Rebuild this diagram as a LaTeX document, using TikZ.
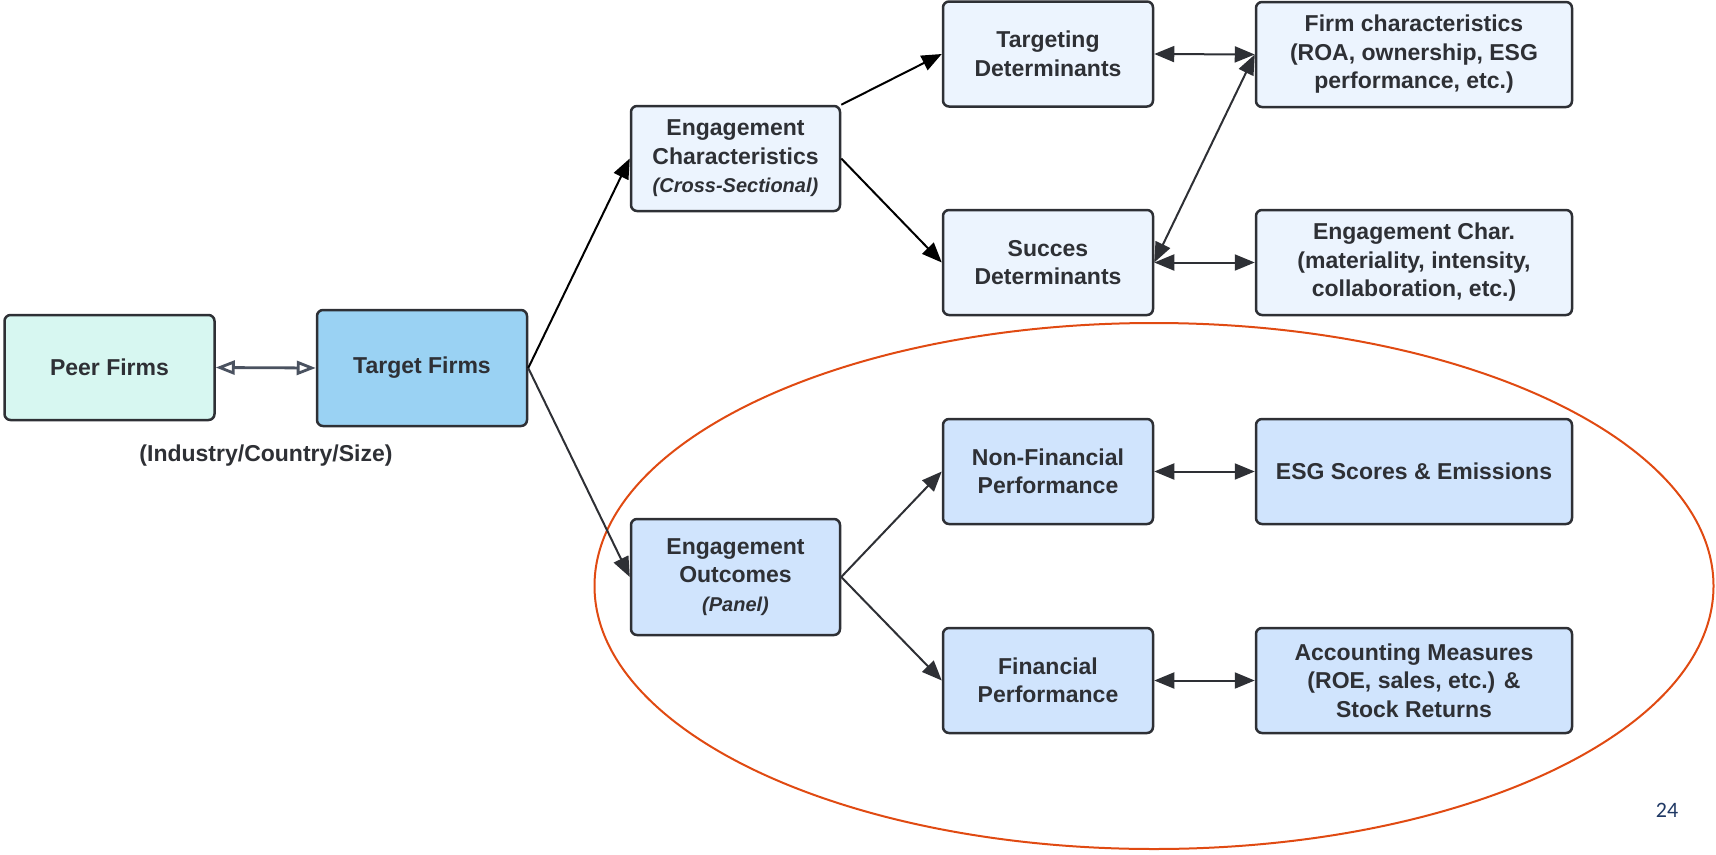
\documentclass[tikz,border=0pt]{standalone}
\usepackage{fontspec}
\setmainfont{Liberation Sans}
\newfontfamily\pagefont{Carlito}
\usetikzlibrary{arrows.meta,shapes.geometric}
\definecolor{ink}{HTML}{2E3035}
\definecolor{mint}{HTML}{D7F7F1}
\definecolor{skyfill}{HTML}{9AD2F3}
\definecolor{palefill}{HTML}{ECF4FE}
\definecolor{bluefill}{HTML}{D0E4FD}
\definecolor{ringcol}{HTML}{E04A12}
\definecolor{pagecol}{HTML}{1F3864}
\definecolor{openarrow}{HTML}{4A5260}
\newcommand\subnote[1]{{\bfseries\itshape\fontsize{20}{24}\selectfont #1}}
\tikzset{
  box/.style={draw=ink, line width=2.5pt, rounded corners=6pt, align=center,
    text=ink, font=\bfseries\fontsize{23}{28.5}\selectfont, inner sep=4pt},
  smallbox/.style={box, minimum width=210pt, minimum height=105pt},
  widebox/.style={box, minimum width=316pt, minimum height=105pt},
  tallbox/.style={box, minimum width=210pt, minimum height=116pt},
  head/.tip={Triangle[length=20pt,width=16pt]},
  link/.style={line width=2pt, -head},
  twoway/.style={line width=2pt, head-head},
}
\begin{document}
\begin{tikzpicture}[x=1pt,y=-1pt]
\useasboundingbox (0,0) rectangle (1716,854);

% left group
\node[smallbox, fill=mint] (peer) at (109.5,367.5) {Peer Firms};
\node[tallbox, fill=skyfill] (target) at (422,368) {Target Firms};
\node[text=ink, font=\bfseries\fontsize{23}{28}\selectfont] (group) at (266,456) {(Industry/Country/Size)};

% cross-sectional branch
\node[smallbox, fill=palefill, minimum width=209pt] (ecs) at (735.5,158.5)
  {Engagement\\Characteristics\\\subnote{(Cross-Sectional)}};
\node[smallbox, fill=palefill] (td) at (1048,54) {Targeting\\Determinants};
\node[smallbox, fill=palefill] (sd) at (1048,262.5) {Succes\\Determinants};
\node[widebox, fill=palefill] (fc) at (1414,54.5) {Firm characteristics\\(ROA, ownership, ESG\\performance, etc.)};
\node[widebox, fill=palefill] (ec) at (1414,262.5) {Engagement Char.\\(materiality, intensity,\\collaboration, etc.)};

% panel branch
\node[tallbox, fill=bluefill, minimum width=209pt] (eo) at (735.5,577)
  {Engagement\\Outcomes\\\subnote{(Panel)}};
\node[smallbox, fill=bluefill] (nfp) at (1048,471.5) {Non-Financial\\Performance};
\node[widebox, fill=bluefill] (esg) at (1414,471.5) {ESG Scores \& Emissions};
\node[smallbox, fill=bluefill] (fp) at (1048,680.5) {Financial\\Performance};
\node[widebox, fill=bluefill] (am) at (1414,680.5) {Accounting Measures\\(ROE, sales, etc.) \&\\Stock Returns};

% highlight ring around the panel branch
\node[draw=ringcol, line width=2pt, ellipse, minimum width=1119pt, minimum height=526pt, inner sep=0pt] (ring) at (1154,586) {};

% connectors
\draw[line width=2.8pt, draw=openarrow,
  {Triangle[open,length=19pt,width=14pt]}-{Triangle[open,length=19pt,width=14pt]}]
  (peer.east) -- (target.west);
\draw[link, black] (target.east) -- (ecs.west);
\draw[link, ink] (target.east) -- (eo.west);
\draw[link, black] (ecs.north east) -- (td.west);
\draw[link, black] (ecs.east) -- (sd.west);
\draw[twoway, ink] (td.east) -- (fc.west);
\draw[twoway, ink] (sd.east) -- (ec.west);
\draw[twoway, ink] (sd.east) -- (fc.west);
\draw[link, ink] (eo.east) -- (nfp.west);
\draw[link, ink] (eo.east) -- (fp.west);
\draw[twoway, ink] (nfp.east) -- (esg.west);
\draw[twoway, ink] (fp.east) -- (am.west);

% page number
\node[text=pagecol, font=\pagefont\fontsize{22}{26}\selectfont] (page) at (1667,810) {24};
\end{tikzpicture}
\end{document}
